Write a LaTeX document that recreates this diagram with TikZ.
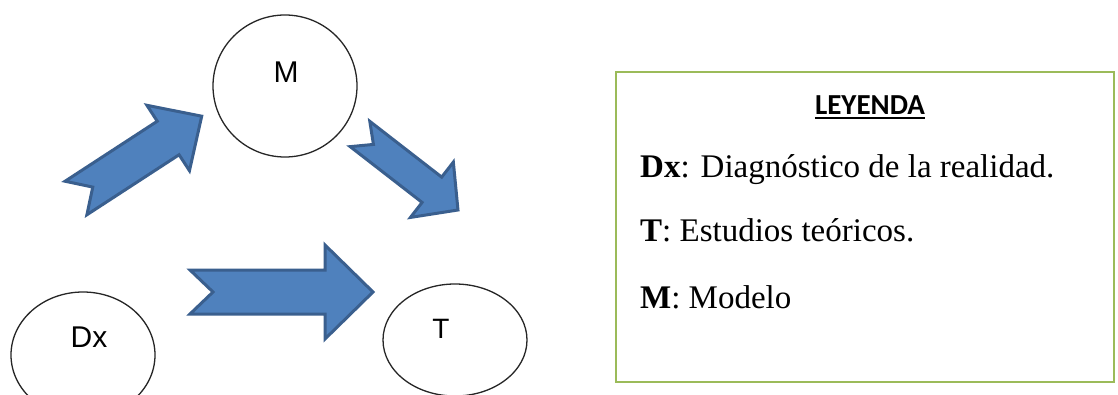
\documentclass[tikz,border=0pt]{standalone}
\usepackage{fontspec}
\setmainfont{Liberation Serif}
\newfontfamily\arialf{Liberation Sans}
\newfontfamily\calibrif{Carlito}
\usetikzlibrary{shapes.geometric}
\definecolor{arrfill}{HTML}{4F81BD}
\definecolor{arrline}{HTML}{3A5F8E}
\definecolor{boxgreen}{HTML}{9BBB59}
\tikzset{
  x=1pt, y=-1pt,
  oval/.style={draw=black!85, line width=1.3pt, ellipse, inner sep=0pt},
  inlabel/.style={font=\arialf\fontsize{30}{36}\selectfont, anchor=base, inner sep=0pt},
  blockarrow/.style={fill=arrfill, draw=arrline, line width=3pt, line join=miter},
  legtext/.style={font=\fontsize{33}{40}\selectfont, anchor=base west, inner sep=0pt},
}
% #1 tail centre, #2 angle, #3 length, #4 shaft half width, #5 head half width, #6 head length, #7 notch
\newcommand{\blockarr}[7]{%
  \begin{scope}[shift={#1}, rotate=#2]
    \draw[blockarrow] (0,#4) -- ({#3-#6},#4) -- ({#3-#6},#5) -- (#3,0)
      -- ({#3-#6},-#5) -- ({#3-#6},-#4) -- (0,-#4) -- (#7,0) -- cycle;
  \end{scope}}
\begin{document}
\begin{tikzpicture}
\clip (0,0) rectangle (1118,395);
\fill[white] (0,0) rectangle (1118,395);
% ovals
\node[oval, minimum width=144pt, minimum height=142pt] (M) at (285,86) {};
\node[oval, minimum width=144pt, minimum height=126pt] (Dx) at (83,355) {};
\node[oval, minimum width=144pt, minimum height=112pt] (T) at (455,340) {};
\node[inlabel] (Mt) at (286,83) {M};
\node[inlabel] (Dxt) at (89,347) {Dx};
\node[inlabel, font=\arialf\fontsize{28}{34}\selectfont] (Tt) at (441,338) {T};
% block arrows
\blockarr{(76,198)}{33.06}{150}{20}{39}{40}{20}
\blockarr{(360,134)}{-37.8}{124}{16}{35}{33}{17}
\blockarr{(190,292)}{0}{183}{22}{47}{48}{23}
% legend
\draw[boxgreen, line width=2pt] (616,72) rectangle (1114,382);
\node[font=\calibrif\bfseries\fontsize{29}{34}\selectfont, anchor=base, inner sep=0pt] (ley) at (870,115) {LEYENDA};
\draw[line width=1.5pt] (ley.base west) ++(0,3) -- ([yshift=-3pt]ley.base east);
\node[legtext] (l1) at (640,178) {\textbf{Dx}: Diagnóstico de la realidad.};
\node[legtext] (l2) at (640,242) {\textbf{T}: Estudios teóricos.};
\node[legtext] (l3) at (640,308) {\textbf{M}: Modelo};
\end{tikzpicture}
\end{document}
